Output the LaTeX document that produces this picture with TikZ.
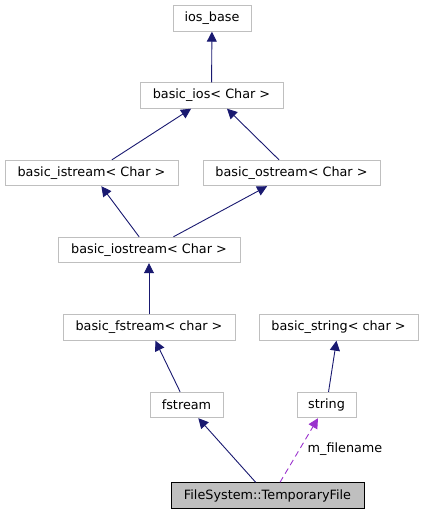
\documentclass[tikz,border=0pt]{standalone}
\usepackage{fontspec}
\setmainfont{DejaVu Sans}
\usetikzlibrary{arrows.meta}
\definecolor{edgeblue}{HTML}{191970}
\definecolor{boxgray}{HTML}{BFBFBF}
\definecolor{memberpurple}{HTML}{9A32CD}
\begin{document}
\begin{tikzpicture}[x=1pt, y=-1pt,
        cls/.style={draw=boxgray, line width=0.9pt, fill=white, inner sep=0pt, minimum height=25.5pt, font=\fontsize{12.8}{15}\selectfont},
        inh/.style={draw=edgeblue, line width=0.9pt, -{Triangle[length=10pt,width=10pt]}, edgeblue},
        mem/.style={draw=memberpurple, line width=0.9pt, dashed, dash pattern=on 6pt off 4pt, -{Triangle[length=10pt,width=10pt]}, memberpurple}]
        \useasboundingbox (0, 0) rectangle (423, 515);
        \node[cls, minimum width=78pt] (iosbase) at (212, 18.5) {ios\_base};
        \node[cls, minimum width=143pt] (bios) at (211.5, 95.5) {basic\_ios< Char >};
        \node[cls, minimum width=173pt] (bistream) at (91.5, 173) {basic\_istream< Char >};
        \node[cls, minimum width=177pt] (bostream) at (291.5, 173) {basic\_ostream< Char >};
        \node[cls, minimum width=182pt] (biostream) at (149, 250) {basic\_iostream< Char >};
        \node[cls, minimum width=172pt] (bfstream) at (149, 327.5) {basic\_fstream< char >};
        \node[cls, minimum width=159pt] (bstring) at (338.5, 327.5) {basic\_string< char >};
        \node[cls, minimum width=73pt] (fstream) at (186.5, 405) {fstream};
        \node[cls, minimum width=59pt] (string) at (326.5, 405) {string};
        \node[cls, draw=black, fill=boxgray, minimum width=193pt] (tmpfile) at (267.5, 495.5) {FileSystem::TemporaryFile};
        \draw[inh] (bios) -- (iosbase);
        \draw[inh] (bistream) -- (bios);
        \draw[inh] (bostream.north -| 279, 0) -- (bios.south -| 227, 0);
        \draw[inh] (biostream) -- (bistream);
        \draw[inh] (biostream) -- (bostream);
        \draw[inh] (bfstream) -- (biostream);
        \draw[inh] (fstream) -- (bfstream);
        \draw[inh] (string) -- (bstring);
        \draw[inh] (tmpfile) -- (fstream);
        \draw[mem] (tmpfile.north -| 280, 0) -- (string.south -| 318, 0);
        \node[font=\fontsize{12.8}{15}\selectfont, inner sep=0pt] (mfilename) at (345, 449) {m\_filename};
    \end{tikzpicture}
\end{document}
